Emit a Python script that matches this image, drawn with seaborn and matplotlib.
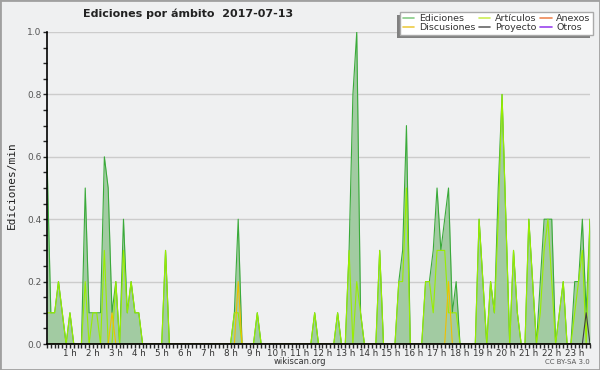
import numpy as np
import pandas as pd
import seaborn as sns
import matplotlib
matplotlib.use("Agg")
import matplotlib.pyplot as plt
from matplotlib.lines import Line2D
from matplotlib.patches import Rectangle
from matplotlib.ticker import MultipleLocator, FixedLocator
from matplotlib.transforms import IdentityTransform

# edits per minute, 10 minute bins (one row per hour)
ediciones = [
    0.6, 0.1, 0.1, 0.2, 0.1, 0.0,
    0.1, 0.0, 0.0, 0.0, 0.5, 0.1,
    0.1, 0.1, 0.1, 0.6, 0.5, 0.1,
    0.2, 0.0, 0.4, 0.1, 0.2, 0.1,
    0.1, 0.0, 0.0, 0.0, 0.0, 0.0,
    0.0, 0.3, 0.0, 0.0, 0.0, 0.0,
    0.0, 0.0, 0.0, 0.0, 0.0, 0.0,
    0.0, 0.0, 0.0, 0.0, 0.0, 0.0,
    0.0, 0.1, 0.4, 0.0, 0.0, 0.0,
    0.0, 0.1, 0.0, 0.0, 0.0, 0.0,
    0.0, 0.0, 0.0, 0.0, 0.0, 0.0,
    0.0, 0.0, 0.0, 0.0, 0.1, 0.0,
    0.0, 0.0, 0.0, 0.0, 0.1, 0.0,
    0.0, 0.3, 0.8, 1.0, 0.1, 0.0,
    0.0, 0.0, 0.0, 0.3, 0.0, 0.0,
    0.0, 0.0, 0.2, 0.3, 0.7, 0.0,
    0.0, 0.0, 0.0, 0.2, 0.2, 0.3,
    0.5, 0.3, 0.4, 0.5, 0.1, 0.2,
    0.0, 0.0, 0.0, 0.0, 0.0, 0.4,
    0.2, 0.0, 0.2, 0.1, 0.5, 0.8,
    0.4, 0.0, 0.3, 0.1, 0.0, 0.0,
    0.4, 0.2, 0.0, 0.2, 0.4, 0.4,
    0.4, 0.0, 0.1, 0.2, 0.0, 0.0,
    0.2, 0.2, 0.4, 0.1, 0.4,
]
articulos = [
    0.1, 0.1, 0.1, 0.2, 0.1, 0.0,
    0.1, 0.0, 0.0, 0.0, 0.2, 0.0,
    0.1, 0.1, 0.0, 0.3, 0.0, 0.0,
    0.2, 0.0, 0.3, 0.1, 0.2, 0.1,
    0.1, 0.0, 0.0, 0.0, 0.0, 0.0,
    0.0, 0.3, 0.0, 0.0, 0.0, 0.0,
    0.0, 0.0, 0.0, 0.0, 0.0, 0.0,
    0.0, 0.0, 0.0, 0.0, 0.0, 0.0,
    0.0, 0.1, 0.1, 0.0, 0.0, 0.0,
    0.0, 0.1, 0.0, 0.0, 0.0, 0.0,
    0.0, 0.0, 0.0, 0.0, 0.0, 0.0,
    0.0, 0.0, 0.0, 0.0, 0.1, 0.0,
    0.0, 0.0, 0.0, 0.0, 0.1, 0.0,
    0.0, 0.3, 0.0, 0.2, 0.1, 0.0,
    0.0, 0.0, 0.0, 0.3, 0.0, 0.0,
    0.0, 0.0, 0.2, 0.2, 0.5, 0.0,
    0.0, 0.0, 0.0, 0.2, 0.2, 0.1,
    0.3, 0.3, 0.3, 0.1, 0.1, 0.1,
    0.0, 0.0, 0.0, 0.0, 0.0, 0.4,
    0.2, 0.0, 0.2, 0.1, 0.4, 0.8,
    0.4, 0.0, 0.3, 0.1, 0.0, 0.0,
    0.4, 0.2, 0.0, 0.1, 0.3, 0.4,
    0.2, 0.0, 0.1, 0.2, 0.0, 0.0,
    0.1, 0.2, 0.3, 0.0, 0.4,
]
discusiones = [0.0] * 143
discusiones[17] = 0.1
discusiones[50] = 0.2
discusiones[105] = 0.2
proyecto = [0.0] * 143
proyecto[141] = 0.1

hour_labels = [f"{h} h" for h in range(1, 24)]
legend_names = ["Ediciones", "Discusiones", "Artículos", "Proyecto", "Anexos", "Otros"]
legend_colors = ["#88cc88", "#eecc44", "#ccee55", "#666666", "#ee8855", "#9944ee"]

df = pd.DataFrame({
    "hora": np.arange(len(ediciones)) / 6,
    "ediciones": ediciones,
    "articulos": articulos,
    "discusiones": discusiones,
    "proyecto": proyecto,
})

bg = "#eff0f1"
sns.set_style("white")
plt.rcParams["font.family"] = ["DejaVu Sans"]

fig = plt.figure(figsize=(6, 3.7), dpi=100, facecolor=bg)
ax = fig.add_axes([47 / 600, 26 / 370, 543 / 600, 312 / 370], facecolor=bg)

ax.fill_between(df["hora"], df["ediciones"], color="#a2cba2", lw=0, zorder=1)
sns.lineplot(data=df, x="hora", y="ediciones", color="#3aaa3a", lw=0.8, ax=ax, zorder=2)
sns.lineplot(data=df, x="hora", y="articulos", color="#99ee00", lw=0.8, ax=ax, zorder=2.1)
sns.lineplot(data=df, x="hora", y="discusiones", color="#f0c000", lw=0.8, ax=ax, zorder=2.2)
sns.lineplot(data=df, x="hora", y="proyecto", color="#404040", lw=0.8, ax=ax, zorder=2.3)

ax.set_xlim(0, df["hora"].iloc[-1])
ax.set_ylim(0, 1)
ax.set_xlabel("")
ax.set_ylabel("")

ax.yaxis.set_major_locator(MultipleLocator(0.2))
ax.yaxis.set_minor_locator(MultipleLocator(0.05))
ax.yaxis.set_major_formatter(matplotlib.ticker.FormatStrFormatter("%.1f"))
ax.xaxis.set_major_locator(FixedLocator(range(1, 24)))
ax.set_xticklabels(hour_labels)
ax.xaxis.set_minor_locator(MultipleLocator(1 / 6))
ax.tick_params(axis="y", which="both", direction="out", length=3, width=1,
               labelsize=6.5, labelcolor="#555555", pad=1, left=True)
ax.tick_params(axis="x", which="both", direction="out", length=3, width=1,
               labelsize=6.3, labelcolor="#333333", pad=0.5, bottom=True)

ax.grid(False)
ax.yaxis.grid(True, color="#cccccc", lw=1)
ax.set_axisbelow(True)
for s in ["top", "right"]:
    ax.spines[s].set_visible(False)
for s in ["left", "bottom"]:
    ax.spines[s].set_color("black")
    ax.spines[s].set_linewidth(1.2)

fig.text(188 / 600, 1 - 14 / 370, "Ediciones por ámbito  2017-07-13",
         ha="center", va="center", fontsize=8, fontweight="bold", color="#222222")
fig.text(12 / 600, 1 - 185 / 370, "Ediciones/min", rotation=90, ha="center",
         va="center", fontsize=8, family="DejaVu Sans Mono", color="#222222")
fig.text(300 / 600, 1 - 362 / 370, "wikiscan.org", ha="center", va="center",
         fontsize=6, color="#333333")
fig.text(590 / 600, 1 - 362 / 370, "CC BY-SA 3.0", ha="right", va="center",
         fontsize=5, color="#555555")

handles = [Line2D([], [], color=c, lw=1.2) for c in legend_colors]
leg = fig.legend(handles, legend_names, ncol=3, loc="upper right",
                 bbox_to_anchor=(593 / 600, 1 - 12 / 370), frameon=True,
                 fancybox=False, edgecolor="#aaaaaa", facecolor="white",
                 framealpha=1, fontsize=6.8, handlelength=1.2, handletextpad=0.5,
                 columnspacing=0.4, labelspacing=0.0, borderpad=0.25,
                 borderaxespad=0)
for t in leg.get_texts():
    t.set_color("#333333")

# shadow on the lower left of the legend box
fig.canvas.draw()
bb = leg.get_frame().get_window_extent()
fig.add_artist(Rectangle((bb.x0 - 3, bb.y0 - 3), bb.width, bb.height,
                         transform=IdentityTransform(), facecolor="#808080",
                         edgecolor="none", zorder=leg.get_zorder() - 0.5))

fig.add_artist(Rectangle((0, 0), 1, 1, transform=fig.transFigure, fill=False,
                         edgecolor="#a0a0a0", lw=2))

fig.savefig("out.png", dpi=100, facecolor=bg)
